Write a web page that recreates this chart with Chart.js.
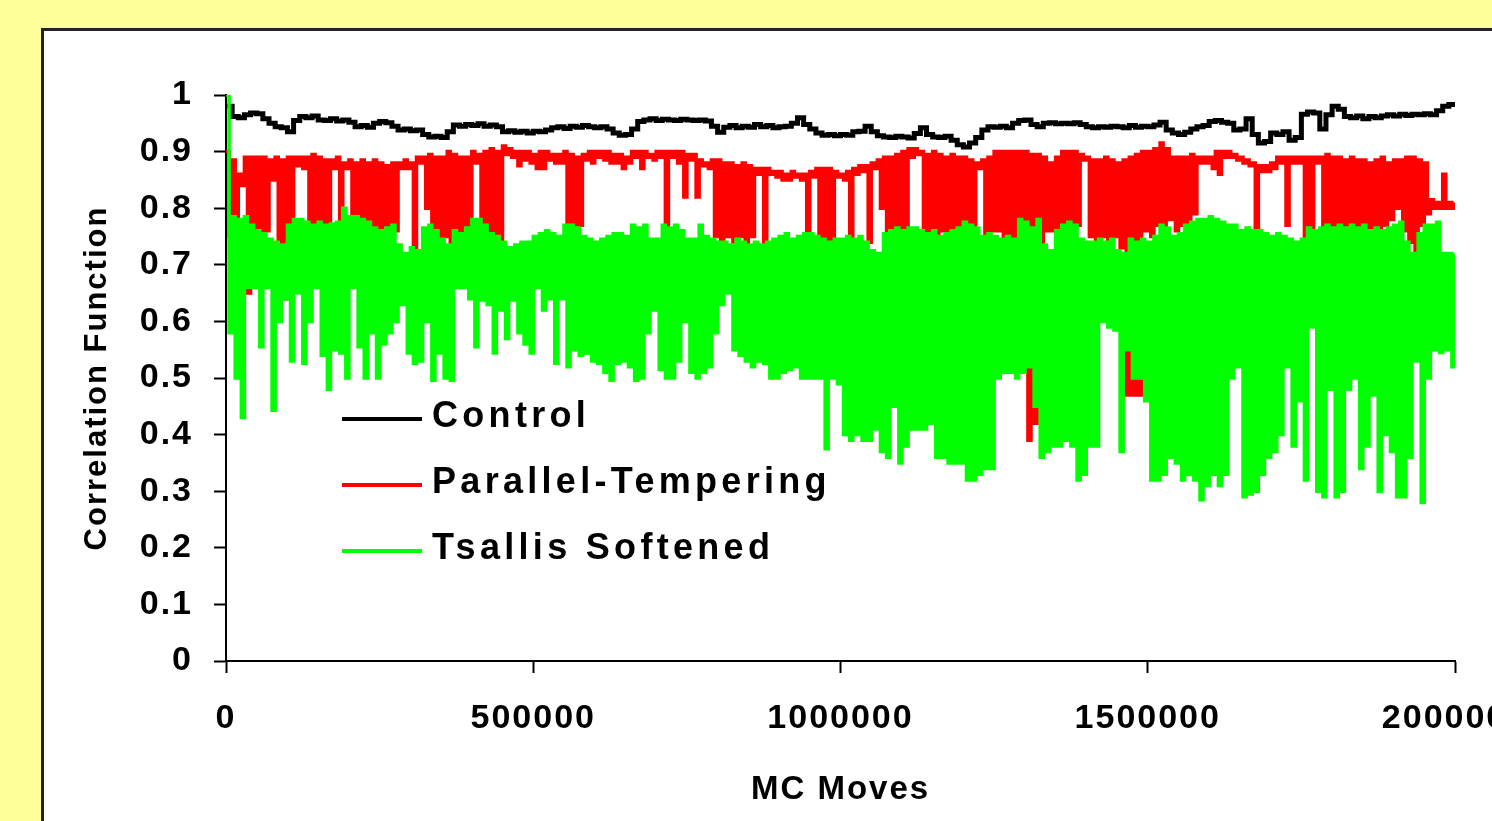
<!DOCTYPE html>
<html>
<head>
<meta charset="utf-8">
<title>Correlation Function vs MC Moves</title>
<script src="https://cdn.jsdelivr.net/npm/chart.js@4.4.0/dist/chart.umd.min.js"></script>
<style>
  html, body { margin: 0; padding: 0; overflow: hidden; background: #ffff99; }
  #frame {
    position: absolute; left: 41px; top: 28px; width: 1600px; height: 900px;
    background: #fff; border: 3px solid #222; box-sizing: border-box;
  }
  #chart { position: absolute; left: 0; top: 0; }
</style>
</head>
<body>
<div id="frame"></div>
<canvas id="chart" width="1600" height="821"></canvas>
<script>
// one sample block = 10000 MC moves
const BLOCK = 10000;

const xTicks = [0, 500000, 1000000, 1500000, 2000000];
const yTicks = [0, 0.1, 0.2, 0.3, 0.4, 0.5, 0.6, 0.7, 0.8, 0.9, 1];
const yTickLabels = ["0", "0.1", "0.2", "0.3", "0.4", "0.5", "0.6", "0.7", "0.8", "0.9", "1"];

// Control run, one value per block
const control = [
  0.98, 0.962, 0.96, 0.965, 0.968, 0.967, 0.958, 0.95, 0.944, 0.942,
  0.935, 0.955, 0.962, 0.96, 0.963, 0.956, 0.955, 0.958, 0.954, 0.956,
  0.952, 0.944, 0.946, 0.943, 0.95, 0.953, 0.951, 0.945, 0.938, 0.94,
  0.937, 0.938, 0.93, 0.926, 0.927, 0.925, 0.935, 0.947, 0.945, 0.948,
  0.946, 0.949, 0.945, 0.947, 0.944, 0.935, 0.937, 0.934, 0.936, 0.933,
  0.936, 0.935, 0.938, 0.942, 0.944, 0.941, 0.945, 0.943, 0.946, 0.944,
  0.942, 0.944, 0.94, 0.933, 0.929, 0.93, 0.94, 0.953, 0.956, 0.958,
  0.955, 0.957, 0.956, 0.955, 0.957, 0.956, 0.955, 0.956, 0.954, 0.945,
  0.934, 0.943, 0.946, 0.942, 0.945, 0.943, 0.948, 0.944, 0.946, 0.942,
  0.944, 0.945, 0.95, 0.96, 0.948, 0.94, 0.933, 0.929, 0.93, 0.928,
  0.93, 0.929, 0.935, 0.936, 0.945, 0.935, 0.928, 0.926, 0.925, 0.927,
  0.926, 0.924, 0.932, 0.942, 0.93, 0.926, 0.925, 0.927, 0.92, 0.912,
  0.908, 0.915, 0.925, 0.938, 0.944, 0.943, 0.945, 0.942, 0.95, 0.955,
  0.956, 0.948, 0.944, 0.95, 0.951, 0.949, 0.95, 0.949, 0.951, 0.948,
  0.944, 0.942, 0.944, 0.943, 0.945, 0.944, 0.942, 0.946, 0.943, 0.945,
  0.944, 0.947, 0.952, 0.938, 0.933, 0.93, 0.934, 0.94, 0.944, 0.946,
  0.953, 0.955, 0.952, 0.95, 0.938, 0.94, 0.958, 0.93, 0.915, 0.918,
  0.933, 0.93, 0.935, 0.92, 0.925, 0.966, 0.97, 0.968, 0.94, 0.965,
  0.98, 0.975, 0.962, 0.96, 0.963, 0.958, 0.962, 0.96, 0.963, 0.965,
  0.963, 0.966, 0.964, 0.966, 0.965, 0.967, 0.965, 0.972, 0.98, 0.983
];

// Parallel-Tempering: highest and lowest value reached inside each block
const ptHigh = [
  0.90, 0.885, 0.86, 0.89, 0.89, 0.89, 0.89, 0.885, 0.89, 0.885,
  0.89, 0.89, 0.89, 0.89, 0.895, 0.89, 0.885, 0.885, 0.89, 0.88,
  0.885, 0.88, 0.885, 0.88, 0.885, 0.88, 0.875, 0.88, 0.88, 0.885,
  0.88, 0.89, 0.89, 0.895, 0.89, 0.89, 0.90, 0.895, 0.89, 0.89,
  0.90, 0.895, 0.90, 0.905, 0.90, 0.91, 0.905, 0.90, 0.90, 0.90,
  0.895, 0.90, 0.90, 0.895, 0.895, 0.90, 0.895, 0.89, 0.895, 0.90,
  0.90, 0.90, 0.90, 0.895, 0.895, 0.89, 0.90, 0.90, 0.90, 0.895,
  0.90, 0.90, 0.90, 0.90, 0.90, 0.895, 0.895, 0.885, 0.88, 0.885,
  0.885, 0.88, 0.88, 0.875, 0.88, 0.875, 0.87, 0.87, 0.87, 0.865,
  0.865, 0.86, 0.865, 0.86, 0.86, 0.865, 0.87, 0.87, 0.87, 0.865,
  0.86, 0.865, 0.87, 0.875, 0.875, 0.88, 0.885, 0.89, 0.89, 0.895,
  0.90, 0.905, 0.905, 0.90, 0.895, 0.90, 0.895, 0.89, 0.895, 0.89,
  0.89, 0.885, 0.88, 0.885, 0.89, 0.90, 0.90, 0.90, 0.90, 0.90,
  0.90, 0.895, 0.895, 0.89, 0.88, 0.89, 0.90, 0.90, 0.90, 0.895,
  0.89, 0.885, 0.885, 0.89, 0.885, 0.88, 0.885, 0.89, 0.895, 0.90,
  0.90, 0.905, 0.915, 0.905, 0.89, 0.89, 0.89, 0.895, 0.89, 0.89,
  0.89, 0.90, 0.90, 0.90, 0.895, 0.89, 0.885, 0.88, 0.875, 0.875,
  0.88, 0.89, 0.89, 0.89, 0.89, 0.89, 0.89, 0.89, 0.89, 0.895,
  0.89, 0.89, 0.885, 0.89, 0.885, 0.885, 0.88, 0.885, 0.89, 0.88,
  0.885, 0.885, 0.89, 0.89, 0.885, 0.88, 0.815, 0.81, 0.86, 0.81
];
const ptLow = [
  0.75, 0.75, 0.84, 0.65, 0.74, 0.75, 0.76, 0.85, 0.64, 0.64,
  0.76, 0.875, 0.87, 0.75, 0.76, 0.75, 0.77, 0.87, 0.76, 0.87,
  0.75, 0.73, 0.74, 0.75, 0.75, 0.75, 0.74, 0.76, 0.87, 0.87,
  0.72, 0.88, 0.80, 0.71, 0.75, 0.75, 0.74, 0.76, 0.74, 0.76,
  0.88, 0.75, 0.74, 0.72, 0.73, 0.895, 0.89, 0.875, 0.885, 0.88,
  0.87, 0.87, 0.885, 0.88, 0.88, 0.76, 0.76, 0.77, 0.885, 0.88,
  0.89, 0.885, 0.88, 0.88, 0.87, 0.88, 0.89, 0.87, 0.89, 0.885,
  0.89, 0.75, 0.89, 0.88, 0.82, 0.885, 0.82, 0.875, 0.87, 0.75,
  0.74, 0.75, 0.74, 0.75, 0.71, 0.75, 0.86, 0.73, 0.86, 0.855,
  0.85, 0.85, 0.855, 0.85, 0.74, 0.855, 0.73, 0.71, 0.64, 0.855,
  0.85, 0.74, 0.86, 0.865, 0.74, 0.87, 0.80, 0.76, 0.76, 0.73,
  0.76, 0.89, 0.895, 0.76, 0.76, 0.755, 0.76, 0.74, 0.74, 0.74,
  0.74, 0.71, 0.87, 0.75, 0.76, 0.76, 0.75, 0.75, 0.75, 0.75,
  0.39, 0.42, 0.64, 0.76, 0.76, 0.47, 0.76, 0.76, 0.77, 0.885,
  0.75, 0.74, 0.75, 0.74, 0.75, 0.73, 0.47, 0.47, 0.47, 0.76,
  0.75, 0.77, 0.76, 0.78, 0.76, 0.77, 0.77, 0.79, 0.88, 0.88,
  0.87, 0.86, 0.89, 0.89, 0.885, 0.88, 0.875, 0.70, 0.865, 0.865,
  0.87, 0.88, 0.77, 0.88, 0.88, 0.74, 0.60, 0.88, 0.75, 0.76,
  0.77, 0.76, 0.75, 0.76, 0.77, 0.75, 0.76, 0.75, 0.77, 0.78,
  0.80, 0.76, 0.74, 0.64, 0.77, 0.79, 0.80, 0.80, 0.80, 0.80
];

// Tsallis Softened: highest and lowest value reached inside each block
const tsHigh = [
  1.0, 0.785, 0.78, 0.785, 0.77, 0.76, 0.755, 0.745, 0.74, 0.735,
  0.77, 0.78, 0.78, 0.775, 0.77, 0.775, 0.77, 0.772, 0.775, 0.80,
  0.785, 0.785, 0.78, 0.775, 0.765, 0.76, 0.765, 0.77, 0.735, 0.72,
  0.73, 0.725, 0.765, 0.77, 0.76, 0.745, 0.735, 0.76, 0.755, 0.765,
  0.78, 0.78, 0.77, 0.755, 0.75, 0.74, 0.73, 0.735, 0.74, 0.74,
  0.75, 0.755, 0.76, 0.755, 0.75, 0.77, 0.77, 0.765, 0.75, 0.745,
  0.74, 0.745, 0.75, 0.755, 0.755, 0.75, 0.77, 0.765, 0.77, 0.745,
  0.745, 0.77, 0.765, 0.77, 0.76, 0.745, 0.745, 0.77, 0.75, 0.745,
  0.74, 0.74, 0.735, 0.745, 0.74, 0.735, 0.74, 0.735, 0.74, 0.745,
  0.75, 0.755, 0.745, 0.75, 0.755, 0.755, 0.75, 0.745, 0.74, 0.745,
  0.745, 0.75, 0.745, 0.75, 0.74, 0.725, 0.72, 0.755, 0.76, 0.765,
  0.76, 0.765, 0.765, 0.76, 0.755, 0.76, 0.75, 0.755, 0.76, 0.765,
  0.775, 0.77, 0.765, 0.75, 0.755, 0.75, 0.745, 0.75, 0.745, 0.78,
  0.775, 0.765, 0.78, 0.735, 0.725, 0.76, 0.77, 0.775, 0.77, 0.745,
  0.74, 0.74, 0.745, 0.74, 0.745, 0.725, 0.72, 0.745, 0.74, 0.745,
  0.74, 0.75, 0.77, 0.765, 0.75, 0.755, 0.77, 0.775, 0.78, 0.78,
  0.785, 0.78, 0.775, 0.77, 0.77, 0.76, 0.765, 0.76, 0.76, 0.755,
  0.75, 0.755, 0.75, 0.745, 0.74, 0.745, 0.765, 0.76, 0.765, 0.77,
  0.765, 0.77, 0.765, 0.77, 0.765, 0.77, 0.76, 0.765, 0.76, 0.765,
  0.77, 0.775, 0.74, 0.72, 0.755, 0.77, 0.77, 0.775, 0.72, 0.72
];
const tsLow = [
  0.58, 0.50, 0.43, 0.66, 0.66, 0.555, 0.66, 0.443, 0.60, 0.64,
  0.53, 0.65, 0.526, 0.60, 0.66, 0.54, 0.48, 0.55, 0.544, 0.50,
  0.66, 0.555, 0.50, 0.58, 0.50, 0.56, 0.58, 0.60, 0.63, 0.544,
  0.526, 0.53, 0.60, 0.496, 0.544, 0.50, 0.496, 0.66, 0.66, 0.64,
  0.555, 0.638, 0.63, 0.544, 0.62, 0.57, 0.638, 0.58, 0.56, 0.544,
  0.66, 0.62, 0.64, 0.526, 0.64, 0.52, 0.55, 0.54, 0.544, 0.53,
  0.526, 0.51, 0.496, 0.526, 0.53, 0.52, 0.496, 0.50, 0.58, 0.62,
  0.515, 0.50, 0.50, 0.53, 0.60, 0.51, 0.50, 0.51, 0.52, 0.58,
  0.63, 0.65, 0.55, 0.54, 0.53, 0.52, 0.53, 0.526, 0.50, 0.50,
  0.51, 0.515, 0.52, 0.50, 0.50, 0.50, 0.50, 0.375, 0.50, 0.49,
  0.40, 0.39, 0.40, 0.39, 0.39, 0.41, 0.37, 0.36, 0.45, 0.35,
  0.38, 0.41, 0.41, 0.41, 0.42, 0.36, 0.36, 0.35, 0.35, 0.35,
  0.32, 0.32, 0.33, 0.34, 0.34, 0.50, 0.51, 0.51, 0.50, 0.51,
  0.52, 0.45, 0.36, 0.37, 0.38, 0.38, 0.39, 0.38, 0.32, 0.33,
  0.38, 0.38, 0.60, 0.59, 0.585, 0.37, 0.55, 0.50, 0.50, 0.46,
  0.32, 0.32, 0.33, 0.36, 0.35, 0.32, 0.33, 0.32, 0.285, 0.31,
  0.33, 0.31, 0.33, 0.50, 0.52, 0.29, 0.295, 0.30, 0.33, 0.36,
  0.37, 0.40, 0.52, 0.38, 0.46, 0.32, 0.59, 0.30, 0.29, 0.48,
  0.29, 0.30, 0.48, 0.50, 0.34, 0.38, 0.47, 0.30, 0.40, 0.37,
  0.29, 0.29, 0.36, 0.53, 0.28, 0.50, 0.55, 0.545, 0.55, 0.52
];

// each block is traced top -> bottom, so the dense trace fills its range
function zigzag(high, low) {
  const pts = [];
  high.forEach((h, i) => {
    pts.push({ x: i * BLOCK, y: h });
    pts.push({ x: i * BLOCK + BLOCK / 2, y: low[i] });
  });
  pts.push({ x: high.length * BLOCK, y: high[high.length - 1] });
  return pts;
}

const controlPts = control.map((v, i) => ({ x: i * BLOCK, y: v }));
controlPts.push({ x: control.length * BLOCK, y: control[control.length - 1] });

const FONT = '"Liberation Sans", Arial, sans-serif';

// legend sits inside the plot, under the curves
const legendBox = {
  id: 'legendBox',
  afterDraw(chart) {
    const { ctx, chartArea } = chart;
    const x0 = chartArea.left + 116;
    ctx.save();
    ctx.font = 'bold 36px ' + FONT;
    ctx.letterSpacing = '4.3px';
    ctx.textAlign = 'left';
    ctx.textBaseline = 'alphabetic';
    chart.data.datasets.forEach((ds, i) => {
      const y = chartArea.top + 324 + i * 66;
      ctx.strokeStyle = ds.borderColor;
      ctx.lineWidth = 4;
      ctx.beginPath();
      ctx.moveTo(x0, y);
      ctx.lineTo(x0 + 80, y);
      ctx.stroke();
      ctx.fillStyle = '#000';
      ctx.fillText(ds.label, x0 + 90, y + 8);
    });
    ctx.restore();
  }
};

// wide spacing on the axis text
const spacedText = {
  id: 'spacedText',
  beforeDraw(chart) { chart.ctx.letterSpacing = '2px'; }
};

const axisGrid = {
  drawOnChartArea: false,
  drawTicks: true,
  tickLength: 12,
  tickWidth: 2,
  tickColor: '#000'
};

new Chart(document.getElementById('chart'), {
  type: 'line',
  data: {
    datasets: [
      {
        label: 'Control',
        data: controlPts,
        borderColor: '#000000',
        borderWidth: 5,
        stepped: true,
        pointRadius: 0,
        order: 2
      },
      {
        label: 'Parallel-Tempering',
        data: zigzag(ptHigh, ptLow),
        borderColor: '#ff0000',
        borderWidth: 3.5,
        stepped: true,
        pointRadius: 0,
        order: 1
      },
      {
        label: 'Tsallis Softened',
        data: zigzag(tsHigh, tsLow),
        borderColor: '#00ff00',
        borderWidth: 3.5,
        stepped: true,
        pointRadius: 0,
        order: 0
      }
    ]
  },
  options: {
    responsive: false,
    animation: false,
    events: [],
    layout: { padding: { left: 0, top: 95, right: 145, bottom: 0 } },
    plugins: {
      legend: { display: false },
      tooltip: { enabled: false }
    },
    scales: {
      x: {
        type: 'linear',
        min: 0,
        max: 2000000,
        afterFit: s => { s.height = 160; },
        afterBuildTicks: s => { s.ticks = xTicks.map(v => ({ value: v })); },
        border: { display: true, color: '#000', width: 2 },
        grid: axisGrid,
        ticks: {
          padding: 25,
          maxRotation: 0,
          color: '#000',
          font: { family: FONT, size: 34, weight: 'bold' },
          callback: v => String(v)
        },
        title: {
          display: true,
          text: 'MC Moves',
          color: '#000',
          font: { family: FONT, size: 33, weight: 'bold' },
          padding: { top: 0, bottom: 11 }
        }
      },
      y: {
        min: 0,
        max: 1,
        afterFit: s => { s.width = 226; },
        afterBuildTicks: s => { s.ticks = yTicks.map(v => ({ value: v })); },
        border: { display: true, color: '#000', width: 2 },
        grid: axisGrid,
        ticks: {
          padding: 21,
          color: '#000',
          font: { family: FONT, size: 34, weight: 'bold' },
          callback: (v, i) => yTickLabels[i]
        },
        title: {
          display: true,
          text: 'Correlation Function',
          color: '#000',
          font: { family: FONT, size: 31, weight: 'bold' },
          padding: { top: 79, bottom: 0 }
        }
      }
    }
  },
  plugins: [spacedText, legendBox]
});
</script>
</body>
</html>
